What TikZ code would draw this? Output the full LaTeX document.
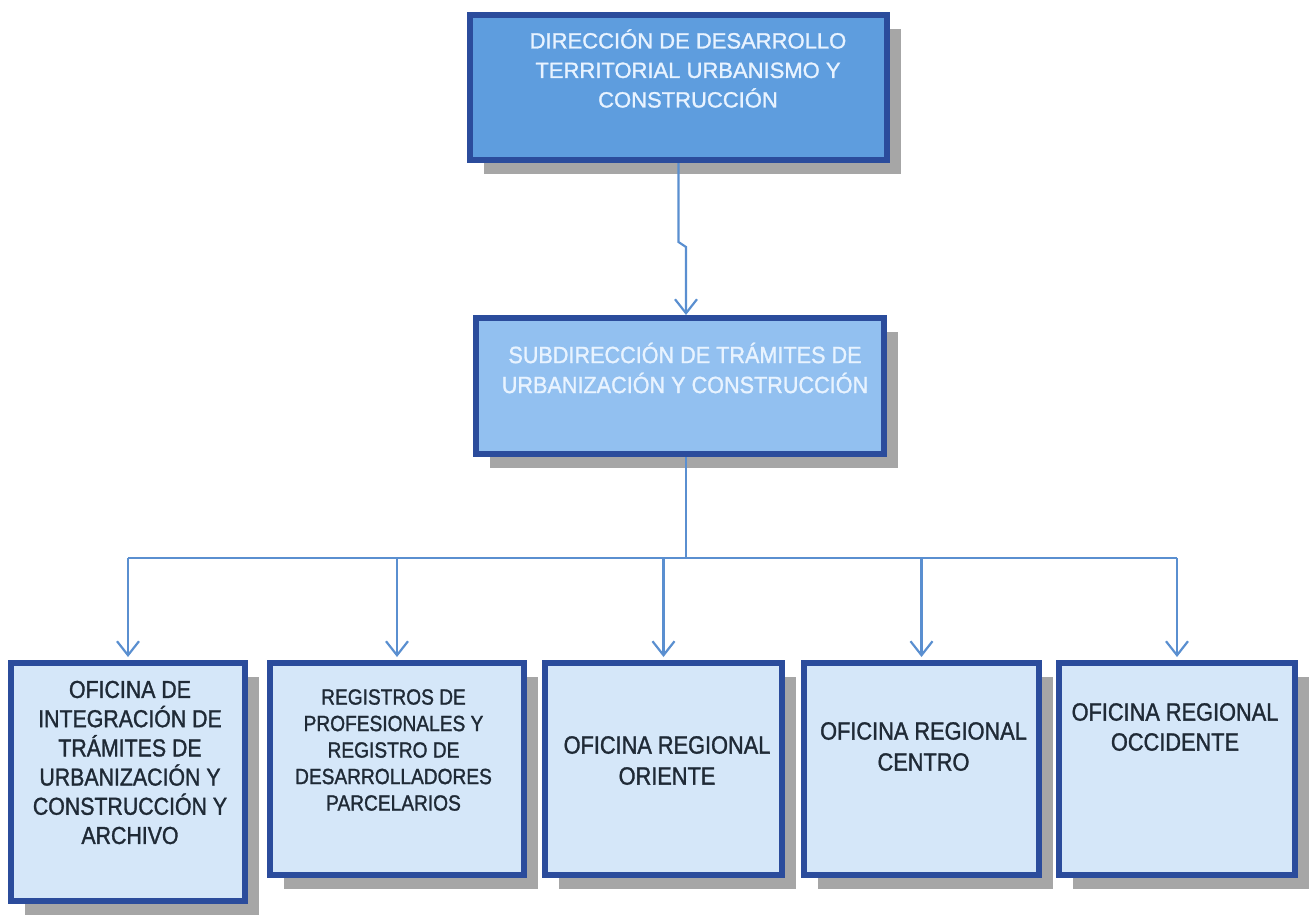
\documentclass[tikz,border=0pt]{standalone}
\usepackage{fontspec}
\setmainfont{Liberation Sans}
\newfontfamily\scanfont{Liberation Sans}[FakeBold=1.3]
\newfontfamily\subfont{Liberation Sans}[FakeBold=1.3, FakeStretch=0.92]
\newfontfamily\condfont{Liberation Sans}[FakeBold=1.3, FakeStretch=0.87]
\usetikzlibrary{arrows.meta,shadows}
\definecolor{bord}{HTML}{2B4C9C}
\definecolor{fillA}{HTML}{5E9DDE}
\definecolor{fillB}{HTML}{92C0F0}
\definecolor{fillC}{HTML}{D5E7F9}
\definecolor{shad}{HTML}{A6A6A6}
\definecolor{conncol}{HTML}{5A8FD0}
\definecolor{lighttxt}{HTML}{E8F3FF}
\definecolor{darktxt}{HTML}{1F2A36}
\begin{document}
\begin{tikzpicture}[x=1pt,y=-1pt,
  box/.style={draw=bord, line width=6pt, rectangle, inner sep=0pt,
    general shadow={fill=shad, shadow xshift=14pt, shadow yshift=-14pt}},
  boxA/.style={box, fill=fillA},
  boxB/.style={box, fill=fillB},
  boxC/.style={box, fill=fillC},
  uptxt/.style={align=center, text=lighttxt, inner sep=0pt, font=\scanfont\fontsize{22}{29.5}\selectfont},
  lowtxt/.style={align=center, text=darktxt, inner sep=0pt, font=\condfont\fontsize{24.5}{29.2}\selectfont},
  conn/.style={draw=conncol, line width=2.2pt, -{Straight Barb[length=14pt,width=22pt]}},
  bus/.style={draw=conncol, line width=2.2pt}
]
\useasboundingbox (0,0) rectangle (1314,914);

% boxes
\node[boxA, minimum width=417pt, minimum height=145pt] (top) at (678.5,87.5) {};
\node[boxB, minimum width=408pt, minimum height=136pt] (sub) at (680,386) {};
\node[boxC, minimum width=234pt, minimum height=238pt] (b1) at (128,782) {};
\node[boxC, minimum width=254pt, minimum height=212pt] (b2) at (397,769) {};
\node[boxC, minimum width=237pt, minimum height=212pt] (b3) at (663.5,769) {};
\node[boxC, minimum width=235pt, minimum height=212pt] (b4) at (921.5,769) {};
\node[boxC, minimum width=236pt, minimum height=212pt] (b5) at (1177,769) {};

% texts
\node[uptxt] (t0) at (688,68.5) {DIRECCIÓN DE DESARROLLO\\TERRITORIAL URBANISMO Y\\CONSTRUCCIÓN};
\node[uptxt, font=\subfont\fontsize{23.5}{30}\selectfont] (t1) at (685,368) {SUBDIRECCIÓN DE TRÁMITES DE\\URBANIZACIÓN Y CONSTRUCCIÓN};
\node[lowtxt] (t2) at (130,762.5) {OFICINA DE\\INTEGRACIÓN DE\\TRÁMITES DE\\URBANIZACIÓN Y\\CONSTRUCCIÓN Y\\ARCHIVO};
\node[lowtxt, font=\condfont\fontsize{22}{26.5}\selectfont] (t3) at (393.5,750) {REGISTROS DE\\PROFESIONALES Y\\REGISTRO DE\\DESARROLLADORES\\PARCELARIOS};
\node[lowtxt, font=\condfont\fontsize{25}{31}\selectfont] (t4) at (667,760.5) {OFICINA REGIONAL\\ORIENTE};
\node[lowtxt, font=\condfont\fontsize{25}{31}\selectfont] (t5) at (923.5,746.5) {OFICINA REGIONAL\\CENTRO};
\node[lowtxt, font=\condfont\fontsize{25}{30}\selectfont] (t6) at (1175,727) {OFICINA REGIONAL\\OCCIDENTE};

% connectors
\coordinate (j1) at (678.5,242);
\coordinate (j2) at (686,247);
\draw[conn] (top.south) -- (j1) -- (j2) -- (sub.north -| j2);

\coordinate (hub) at (686,558);
\draw[bus] (sub.south -| hub) -- (hub);
\draw[bus] (b1.north |- hub) -- (b5.north |- hub);
\foreach \b in {b1,b2,b3,b4,b5}{
  \draw[conn] (\b.north |- hub) -- ([yshift=3pt]\b.north);
}
\end{tikzpicture}
\end{document}
